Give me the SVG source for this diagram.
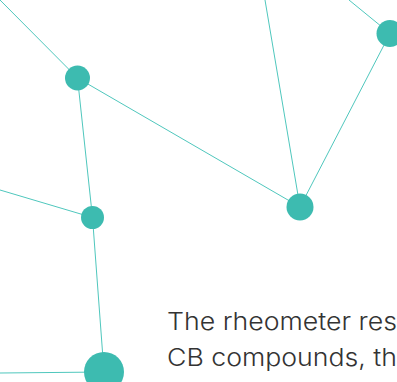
<svg xmlns="http://www.w3.org/2000/svg" width="397" height="382" viewBox="0 0 397 382">
<style>
.edge{stroke:#4fc7bd;stroke-width:1;fill:none}
.node{fill:#3dbbb0}
.txt{font-family:Inter,"Liberation Sans",sans-serif;font-size:24px;font-weight:300;fill:#333}
</style>
<rect width="397" height="382" fill="#fff"/>
<g id="connectors">
<line class="edge" x1="0" y1="0" x2="77.5" y2="78"/>
<line class="edge" x1="77.5" y1="78" x2="300" y2="207"/>
<line class="edge" x1="77.5" y1="78" x2="92.5" y2="217.5"/>
<line class="edge" x1="0" y1="190" x2="92.5" y2="217.5"/>
<line class="edge" x1="92.5" y1="217.5" x2="104" y2="372"/>
<line class="edge" x1="0" y1="373" x2="104" y2="372"/>
<line class="edge" x1="265" y1="0" x2="300" y2="207"/>
<line class="edge" x1="300" y1="207" x2="390" y2="33.5"/>
<line class="edge" x1="349" y1="0" x2="390" y2="33.5"/>
</g>
<g id="n1"><circle class="node" cx="77.5" cy="78" r="12.5"/></g>
<g id="n2"><circle class="node" cx="300" cy="207" r="13.5"/></g>
<g id="n3"><circle class="node" cx="390" cy="33.5" r="13.5"/></g>
<g id="n4"><circle class="node" cx="92.5" cy="217.5" r="11.5"/></g>
<g id="n5"><circle class="node" cx="104" cy="372" r="20"/></g>
<g id="text">
<text class="txt" x="167" y="330" textLength="230" lengthAdjust="spacingAndGlyphs">The rheometer res</text>
<text class="txt" x="167" y="366" textLength="230" lengthAdjust="spacingAndGlyphs">CB compounds, th</text>
</g>
</svg>
